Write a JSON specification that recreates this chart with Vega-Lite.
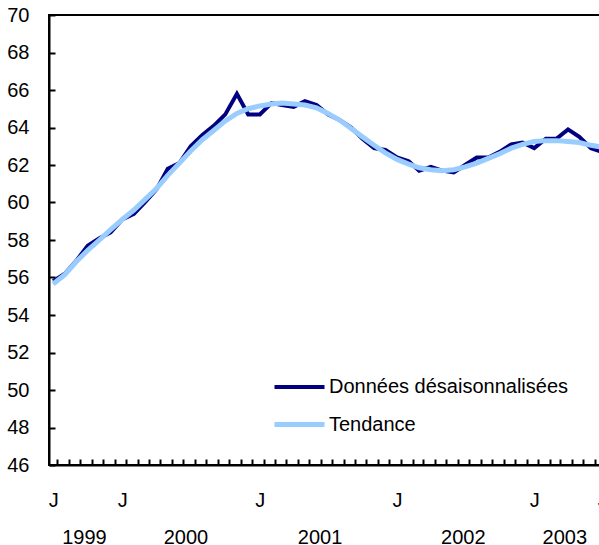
{
  "$schema": "https://vega.github.io/schema/vega-lite/v6.json",
  "width": 560,
  "height": 450,
  "autosize": {"type": "none"},
  "padding": {"left": 49, "top": 15, "right": 0, "bottom": 80},
  "background": "white",
  "config": {
    "view": {"stroke": "black", "strokeWidth": 2},
    "font": "Liberation Sans",
    "axis": {"labelColor": "black", "labelFont": "Liberation Sans", "labelFontSize": 20, "grid": false, "title": null}
  },
  "datasets": {
    "series": [
      {"date": "1999-07-01", "Données désaisonnalisées": 55.8, "Tendance": 55.65},
      {"date": "1999-08-01", "Données désaisonnalisées": 56.2, "Tendance": 56.15},
      {"date": "1999-09-01", "Données désaisonnalisées": 56.9, "Tendance": 56.85},
      {"date": "1999-10-01", "Données désaisonnalisées": 57.7, "Tendance": 57.45},
      {"date": "1999-11-01", "Données désaisonnalisées": 58.1, "Tendance": 58.0},
      {"date": "1999-12-01", "Données désaisonnalisées": 58.4, "Tendance": 58.55},
      {"date": "2000-01-01", "Données désaisonnalisées": 59.1, "Tendance": 59.1},
      {"date": "2000-02-01", "Données désaisonnalisées": 59.4, "Tendance": 59.6},
      {"date": "2000-03-01", "Données désaisonnalisées": 60.0, "Tendance": 60.15},
      {"date": "2000-04-01", "Données désaisonnalisées": 60.7, "Tendance": 60.75},
      {"date": "2000-05-01", "Données désaisonnalisées": 61.8, "Tendance": 61.45},
      {"date": "2000-06-01", "Données désaisonnalisées": 62.1, "Tendance": 62.1},
      {"date": "2000-07-01", "Données désaisonnalisées": 63.0, "Tendance": 62.75},
      {"date": "2000-08-01", "Données désaisonnalisées": 63.6, "Tendance": 63.35},
      {"date": "2000-09-01", "Données désaisonnalisées": 64.1, "Tendance": 63.85},
      {"date": "2000-10-01", "Données désaisonnalisées": 64.7, "Tendance": 64.35},
      {"date": "2000-11-01", "Données désaisonnalisées": 65.8, "Tendance": 64.75},
      {"date": "2000-12-01", "Données désaisonnalisées": 64.7, "Tendance": 65.0},
      {"date": "2001-01-01", "Données désaisonnalisées": 64.7, "Tendance": 65.15},
      {"date": "2001-02-01", "Données désaisonnalisées": 65.3, "Tendance": 65.25},
      {"date": "2001-03-01", "Données désaisonnalisées": 65.2, "Tendance": 65.3},
      {"date": "2001-04-01", "Données désaisonnalisées": 65.1, "Tendance": 65.25},
      {"date": "2001-05-01", "Données désaisonnalisées": 65.4, "Tendance": 65.2},
      {"date": "2001-06-01", "Données désaisonnalisées": 65.2, "Tendance": 65.05},
      {"date": "2001-07-01", "Données désaisonnalisées": 64.7, "Tendance": 64.75},
      {"date": "2001-08-01", "Données désaisonnalisées": 64.4, "Tendance": 64.4},
      {"date": "2001-09-01", "Données désaisonnalisées": 64.0, "Tendance": 63.95},
      {"date": "2001-10-01", "Données désaisonnalisées": 63.4, "Tendance": 63.5},
      {"date": "2001-11-01", "Données désaisonnalisées": 62.9, "Tendance": 63.05},
      {"date": "2001-12-01", "Données désaisonnalisées": 62.8, "Tendance": 62.65},
      {"date": "2002-01-01", "Données désaisonnalisées": 62.4, "Tendance": 62.3},
      {"date": "2002-02-01", "Données désaisonnalisées": 62.2, "Tendance": 62.05},
      {"date": "2002-03-01", "Données désaisonnalisées": 61.7, "Tendance": 61.85},
      {"date": "2002-04-01", "Données désaisonnalisées": 61.9, "Tendance": 61.75},
      {"date": "2002-05-01", "Données désaisonnalisées": 61.7, "Tendance": 61.7},
      {"date": "2002-06-01", "Données désaisonnalisées": 61.6, "Tendance": 61.75},
      {"date": "2002-07-01", "Données désaisonnalisées": 62.0, "Tendance": 61.9},
      {"date": "2002-08-01", "Données désaisonnalisées": 62.4, "Tendance": 62.1},
      {"date": "2002-09-01", "Données désaisonnalisées": 62.4, "Tendance": 62.35},
      {"date": "2002-10-01", "Données désaisonnalisées": 62.7, "Tendance": 62.6},
      {"date": "2002-11-01", "Données désaisonnalisées": 63.1, "Tendance": 62.9},
      {"date": "2002-12-01", "Données désaisonnalisées": 63.2, "Tendance": 63.1},
      {"date": "2003-01-01", "Données désaisonnalisées": 62.9, "Tendance": 63.25},
      {"date": "2003-02-01", "Données désaisonnalisées": 63.4, "Tendance": 63.3},
      {"date": "2003-03-01", "Données désaisonnalisées": 63.4, "Tendance": 63.3},
      {"date": "2003-04-01", "Données désaisonnalisées": 63.9, "Tendance": 63.25},
      {"date": "2003-05-01", "Données désaisonnalisées": 63.5, "Tendance": 63.2},
      {"date": "2003-06-01", "Données désaisonnalisées": 62.9, "Tendance": 63.05},
      {"date": "2003-07-01", "Données désaisonnalisées": 62.7, "Tendance": 62.95}
    ],
    "years": [
      {"date": "1999-09-21", "year": "1999"},
      {"date": "2000-06-17", "year": "2000"},
      {"date": "2001-06-09", "year": "2001"},
      {"date": "2002-06-25", "year": "2002"},
      {"date": "2003-03-22", "year": "2003"}
    ]
  },
  "resolve": {"axis": {"x": "independent"}},
  "layer": [
    {
      "data": {"name": "series"},
      "transform": [{"fold": ["Données désaisonnalisées", "Tendance"], "as": ["serie", "value"]}],
      "mark": {"type": "line", "clip": true},
      "encoding": {
        "x": {
          "field": "date", "type": "temporal",
          "scale": {"type": "utc", "domain": [{"year": 1999, "month": 6, "date": 20, "utc": true}, {"year": 2003, "month": 7, "date": 19, "utc": true}]},
          "axis": {
            "orient": "bottom", "tickCount": "month", "tickSize": -6, "tickWidth": 2, "tickColor": "black",
            "tickOffset": 4, "labelOffset": -4, "labelPadding": 31,
            "labelExpr": "(utcmonth(datum.value) == 0 || (utcmonth(datum.value) == 6 && (utcyear(datum.value) == 1999 || utcyear(datum.value) == 2003))) ? 'J' : ''",
            "labelOverlap": false, "labelFlush": false, "labelBound": false, "labelAngle": 0,
            "domainColor": "black", "domainWidth": 2
          }
        },
        "y": {
          "field": "value", "type": "quantitative",
          "scale": {"domain": [46, 70], "nice": false, "zero": false},
          "axis": {
            "values": [46, 48, 50, 52, 54, 56, 58, 60, 62, 64, 66, 68, 70],
            "tickSize": -6, "tickWidth": 2, "tickColor": "black", "labelPadding": 26,
            "domainColor": "black", "domainWidth": 2, "labelOverlap": false, "labelFlush": false
          }
        },
        "color": {
          "field": "serie", "type": "nominal",
          "scale": {"domain": ["Données désaisonnalisées", "Tendance"], "range": ["#000080", "#99CCFF"]},
          "legend": {
            "title": null, "orient": "none", "legendX": 223, "legendY": 345, "padding": 0,
            "symbolType": "stroke", "symbolSize": 2500, "symbolStrokeWidth": 4,
            "labelFontSize": 20, "labelColor": "black", "labelFont": "Liberation Sans", "labelOffset": 2, "labelLimit": 0, "rowPadding": -2
          }
        },
        "strokeWidth": {
          "field": "serie", "type": "nominal",
          "scale": {"domain": ["Données désaisonnalisées", "Tendance"], "range": [4, 5]},
          "legend": null
        }
      }
    },
    {
      "data": {"name": "years"},
      "mark": {"type": "point", "opacity": 0},
      "encoding": {
        "x": {
          "field": "date", "type": "temporal",
          "scale": {"type": "utc", "domain": [{"year": 1999, "month": 6, "date": 20, "utc": true}, {"year": 2003, "month": 7, "date": 19, "utc": true}]},
          "axis": {
            "orient": "bottom",
            "values": [
              {"year": 1999, "month": 9, "date": 21, "utc": true},
              {"year": 2000, "month": 6, "date": 17, "utc": true},
              {"year": 2001, "month": 6, "date": 9, "utc": true},
              {"year": 2002, "month": 6, "date": 25, "utc": true},
              {"year": 2003, "month": 3, "date": 22, "utc": true}
            ],
            "format": "%Y", "ticks": false, "domain": false, "labelPadding": 62,
            "labelOverlap": false, "labelFlush": false, "labelBound": false, "labelAngle": 0
          }
        }
      }
    }
  ]
}
